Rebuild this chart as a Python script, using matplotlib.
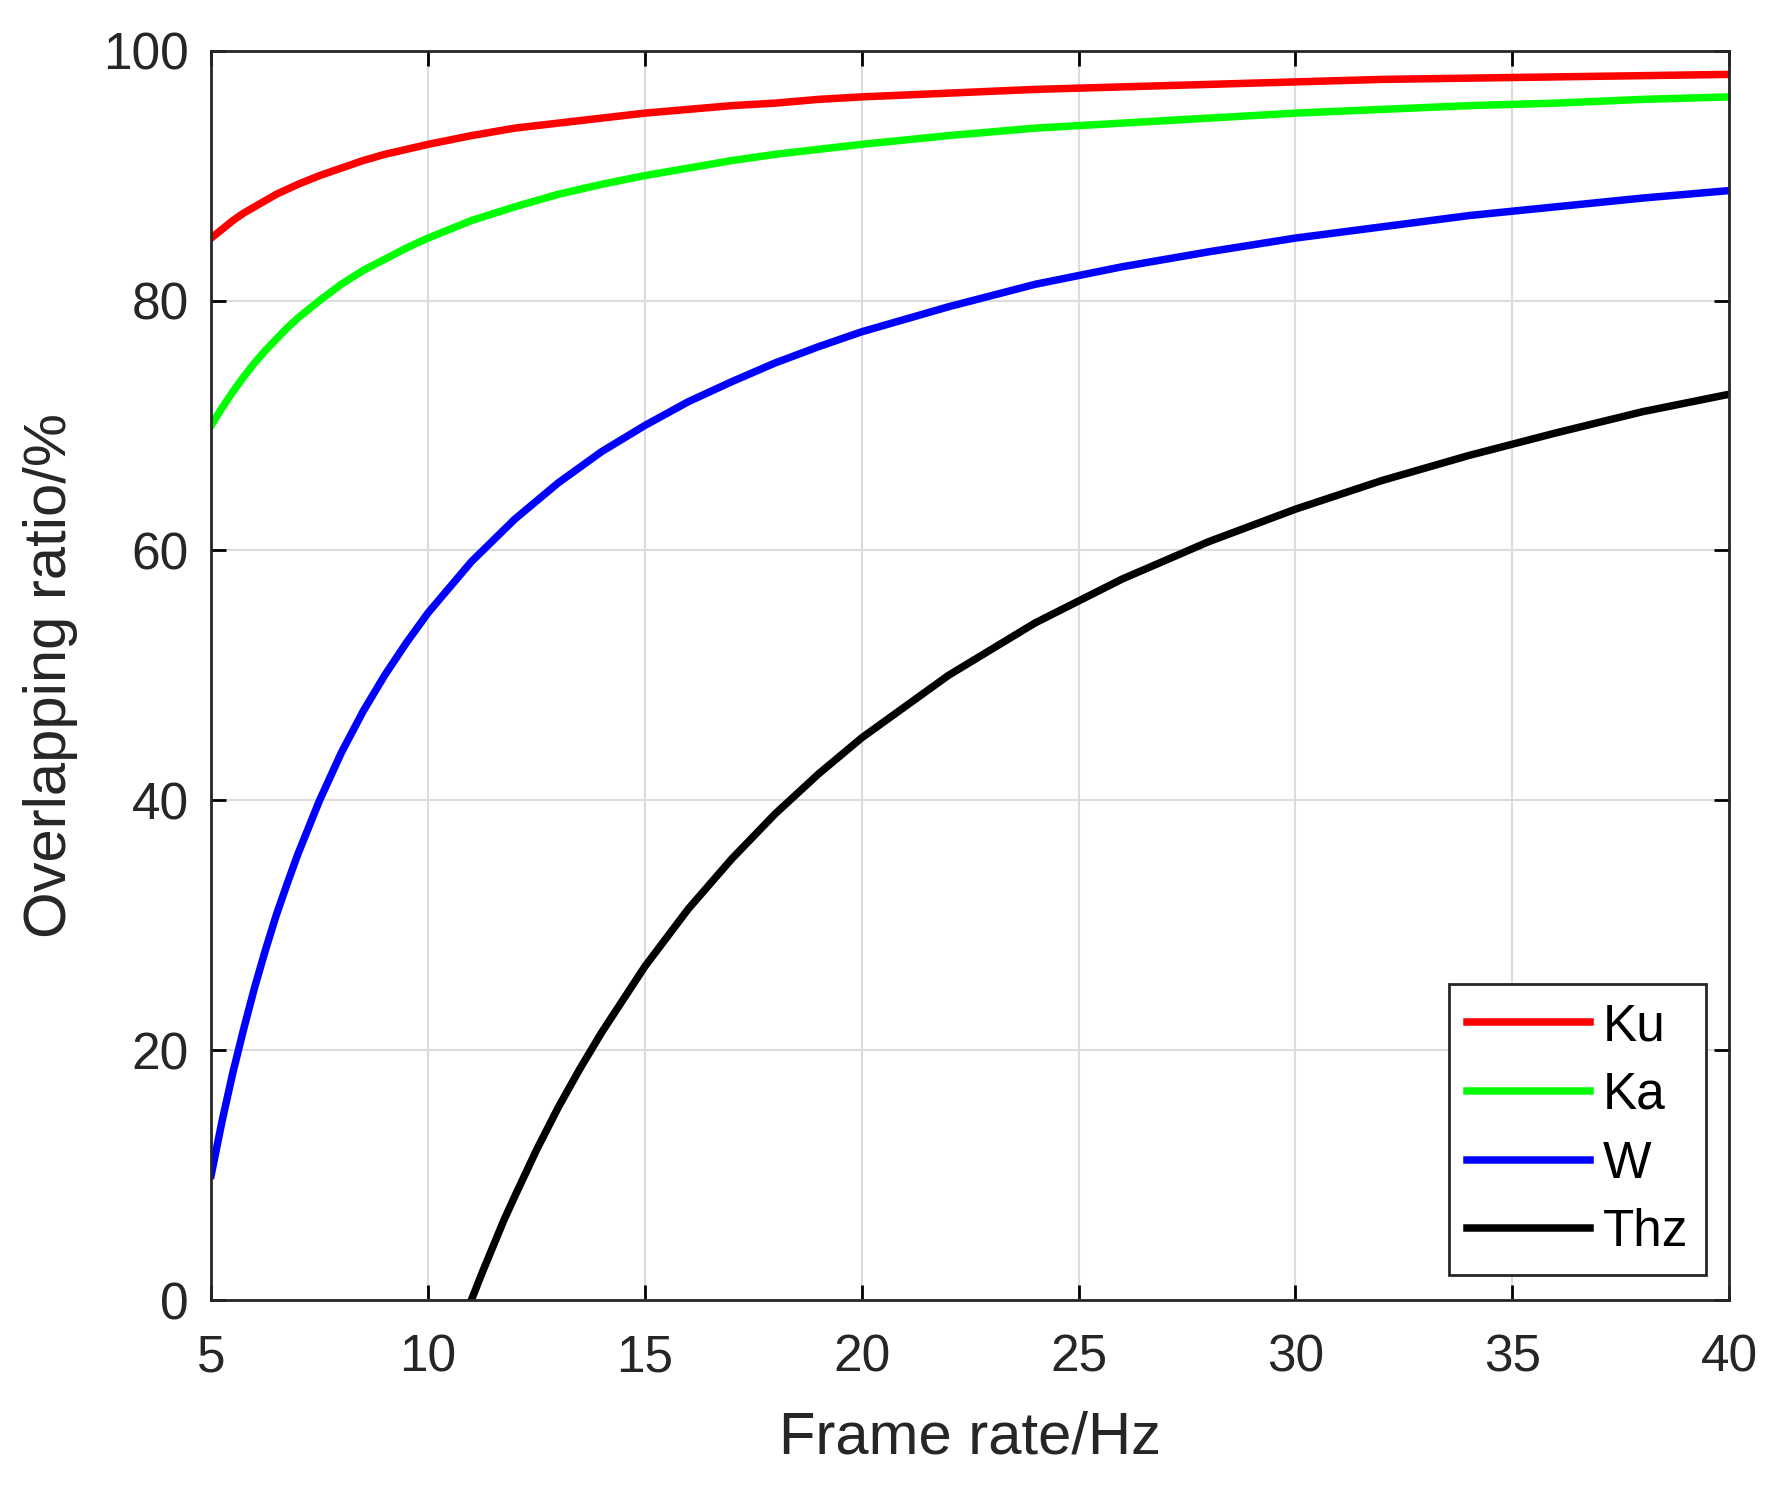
import numpy as np
import matplotlib
matplotlib.use('Agg')
import matplotlib.pyplot as plt

# Values (overlapping ratio in %, frame rate in Hz).
freq = [5, 5.25, 5.5, 5.75, 6, 6.25, 6.5, 6.75, 7, 7.5, 8, 8.5, 9, 9.5, 10, 11, 12, 13, 14,
        15, 16, 17, 18, 19, 20, 22, 24, 26, 28, 30, 32, 34, 36, 38, 40]
ku = [85.0, 85.7, 86.4, 87.0, 87.5, 88.0, 88.5, 88.9, 89.3, 90.0, 90.6, 91.2, 91.7, 92.1,
      92.5, 93.2, 93.8, 94.2, 94.6, 95.0, 95.3, 95.6, 95.8, 96.1, 96.3, 96.6, 96.9, 97.1,
      97.3, 97.5, 97.7, 97.8, 97.9, 98.0, 98.1]
ka = [70.0, 71.4, 72.7, 73.9, 75.0, 76.0, 76.9, 77.8, 78.6, 80.0, 81.3, 82.4, 83.3, 84.2,
      85.0, 86.4, 87.5, 88.5, 89.3, 90.0, 90.6, 91.2, 91.7, 92.1, 92.5, 93.2, 93.8, 94.2,
      94.6, 95.0, 95.3, 95.6, 95.8, 96.1, 96.3]
w = [10.0, 14.3, 18.2, 21.7, 25.0, 28.0, 30.8, 33.3, 35.7, 40.0, 43.8, 47.1, 50.0, 52.6,
     55.0, 59.1, 62.5, 65.4, 67.9, 70.0, 71.9, 73.5, 75.0, 76.3, 77.5, 79.5, 81.3, 82.7,
     83.9, 85.0, 85.9, 86.8, 87.5, 88.2, 88.8]

freq_thz = [11, 11.25, 11.5, 11.75, 12, 12.5, 13, 13.5, 14, 15, 16, 17, 18, 19, 20,
            22, 24, 26, 28, 30, 32, 34, 36, 38, 40]
thz = [0.0, 2.2, 4.3, 6.4, 8.3, 12.0, 15.4, 18.5, 21.4, 26.7, 31.3, 35.3, 38.9, 42.1, 45.0,
       50.0, 54.2, 57.7, 60.7, 63.3, 65.6, 67.6, 69.4, 71.1, 72.5]

plt.rcParams['font.family'] = ['Liberation Sans', 'DejaVu Sans']

fig = plt.figure(figsize=(17.79, 14.90), dpi=100)
ax = fig.add_axes([0.1187, 0.1275, 0.8533, 0.8385])

lw = 5.4
ax.plot(freq, ku, color='#ff0000', lw=lw, label='Ku')
ax.plot(freq, ka, color='#00ff00', lw=lw, label='Ka')
ax.plot(freq, w, color='#0000ff', lw=lw, label='W')
ax.plot(freq_thz, thz, color='#000000', lw=lw, label='Thz')

ax.set_xlim(5, 40)
ax.set_ylim(0, 100)
ax.set_xticks([5, 10, 15, 20, 25, 30, 35, 40])
ax.set_yticks([0, 20, 40, 60, 80, 100])

ax.grid(True, color='#dcdcdc', lw=1.5)
ax.set_axisbelow(True)
for s in ax.spines.values():
    s.set_linewidth(2.0)
    s.set_color('#262626')
ax.tick_params(direction='in', length=11, width=2.0, top=True, right=True,
               labelsize=37, labelcolor='#262626')
ax.tick_params(axis='x', pad=24)
ax.tick_params(axis='y', pad=16)

ax.set_xlabel('Frame rate/Hz', fontsize=43, color='#262626', labelpad=20)
ax.set_ylabel('Overlapping ratio/%', fontsize=43, color='#262626', labelpad=18)

leg = ax.legend(loc='lower right', bbox_to_anchor=(0.985, 0.02), fontsize=37,
                handlelength=2.4, handletextpad=0.25, labelspacing=0.38,
                borderpad=0.35, borderaxespad=0, fancybox=False, framealpha=1)
leg.get_frame().set_edgecolor('#262626')
leg.get_frame().set_linewidth(2.0)

fig.savefig('out.png', dpi=100)
